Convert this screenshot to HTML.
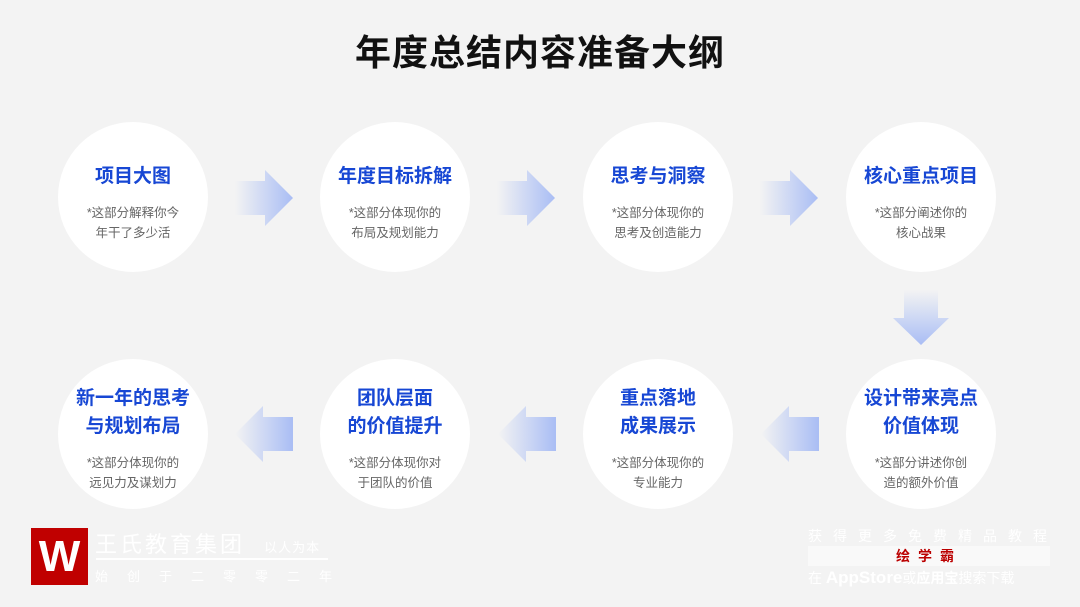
<!DOCTYPE html>
<html><head><meta charset="utf-8"><style>
body{margin:0;width:1080px;height:607px;background:#f3f3f3;position:relative;overflow:hidden;font-family:"Liberation Sans","Noto Sans CJK SC",sans-serif}
.t{position:absolute;left:0;width:1080px;top:24px;text-align:center;font-size:36px;font-weight:bold;color:#111;letter-spacing:1px}
.c{position:absolute;width:150px;height:150px;border-radius:50%;background:#fff;text-align:center;box-sizing:border-box}
.c h{display:block;color:#1747d4;font-weight:bold;font-size:19px;line-height:28px}
.c p{margin:12px 0 0;color:#666;font-size:12.5px;line-height:20px}
svg{position:absolute}
</style></head><body>
<div class="t">年度总结内容准备大纲</div>

<div class="c" style="left:58px;top:122px;padding-top:41px"><h>项目大图</h><p>*这部分解释你今<br>年干了多少活</p></div>
<div class="c" style="left:320px;top:122px;padding-top:41px"><h>年度目标拆解</h><p>*这部分体现你的<br>布局及规划能力</p></div>
<div class="c" style="left:583px;top:122px;padding-top:41px"><h>思考与洞察</h><p>*这部分体现你的<br>思考及创造能力</p></div>
<div class="c" style="left:846px;top:122px;padding-top:41px"><h>核心重点项目</h><p>*这部分阐述你的<br>核心战果</p></div>

<div class="c" style="left:58px;top:359px;padding-top:26px"><h>新一年的思考<br>与规划布局</h><p>*这部分体现你的<br>远见力及谋划力</p></div>
<div class="c" style="left:320px;top:359px;padding-top:26px"><h>团队层面<br>的价值提升</h><p>*这部分体现你对<br>于团队的价值</p></div>
<div class="c" style="left:583px;top:359px;padding-top:26px"><h>重点落地<br>成果展示</h><p>*这部分体现你的<br>专业能力</p></div>
<div class="c" style="left:846px;top:359px;padding-top:26px"><h>设计带来亮点<br>价值体现</h><p>*这部分讲述你创<br>造的额外价值</p></div>

<svg width="1080" height="607" style="left:0;top:0">
<defs>
<linearGradient id="r" x1="0" x2="1"><stop offset="0" stop-color="#a9bdf4" stop-opacity="0"/><stop offset="1" stop-color="#a9bdf4"/></linearGradient>
<linearGradient id="l" x1="1" x2="0"><stop offset="0" stop-color="#a9bdf4" stop-opacity="0"/><stop offset="1" stop-color="#a9bdf4"/></linearGradient>
<linearGradient id="d" x1="0" x2="0" y1="0" y2="1"><stop offset="0" stop-color="#a9bdf4" stop-opacity="0"/><stop offset="1" stop-color="#a9bdf4"/></linearGradient>
<g id="ar"><polygon points="0,-17 30,-17 30,-28 58,0 30,28 30,17 0,17"/></g>
</defs>
<use href="#ar" fill="url(#r)" transform="translate(235,198)"/>
<use href="#ar" fill="url(#r)" transform="translate(497,198)"/>
<use href="#ar" fill="url(#r)" transform="translate(760,198)"/>
<polygon fill="url(#d)" points="904,290 938,290 938,318 949,318 921,345 893,318 904,318"/>
<use href="#ar" fill="url(#l)" transform="translate(293,434) scale(-1,1)"/>
<use href="#ar" fill="url(#l)" transform="translate(556,434) scale(-1,1)"/>
<use href="#ar" fill="url(#l)" transform="translate(819,434) scale(-1,1)"/>
</svg>

<div style="position:absolute;left:31px;top:528px;width:57px;height:57px;background:#c00000;color:#fff;font-size:44px;font-weight:bold;text-align:center;line-height:57px">W</div>
<div style="position:absolute;left:95px;top:527px;color:#fff;font-size:22px;letter-spacing:3px">王氏教育集团 <span style="font-size:13px;margin-left:10px;letter-spacing:1px">以人为本</span></div>
<div style="position:absolute;left:96px;top:558px;width:232px;height:2px;background:#fff"></div>
<div style="position:absolute;left:95px;top:566px;color:#fff;font-size:13px;letter-spacing:19px">始创于二零零二年</div>

<div style="position:absolute;left:808px;top:526px;color:#fff;font-size:14px;letter-spacing:11px">获得更多免费精品教程</div>
<div style="position:absolute;left:808px;top:546px;width:242px;height:20px;background:#f9f9f9;color:#b00;font-weight:bold;font-size:14px;text-align:center;line-height:20px;letter-spacing:8px">绘学霸</div>
<div style="position:absolute;left:808px;top:568px;color:#fff;font-size:14px;white-space:nowrap">在 <b style="font-size:17px">AppStore</b>或<b>应用宝</b>搜索下载</div>
</body></html>
